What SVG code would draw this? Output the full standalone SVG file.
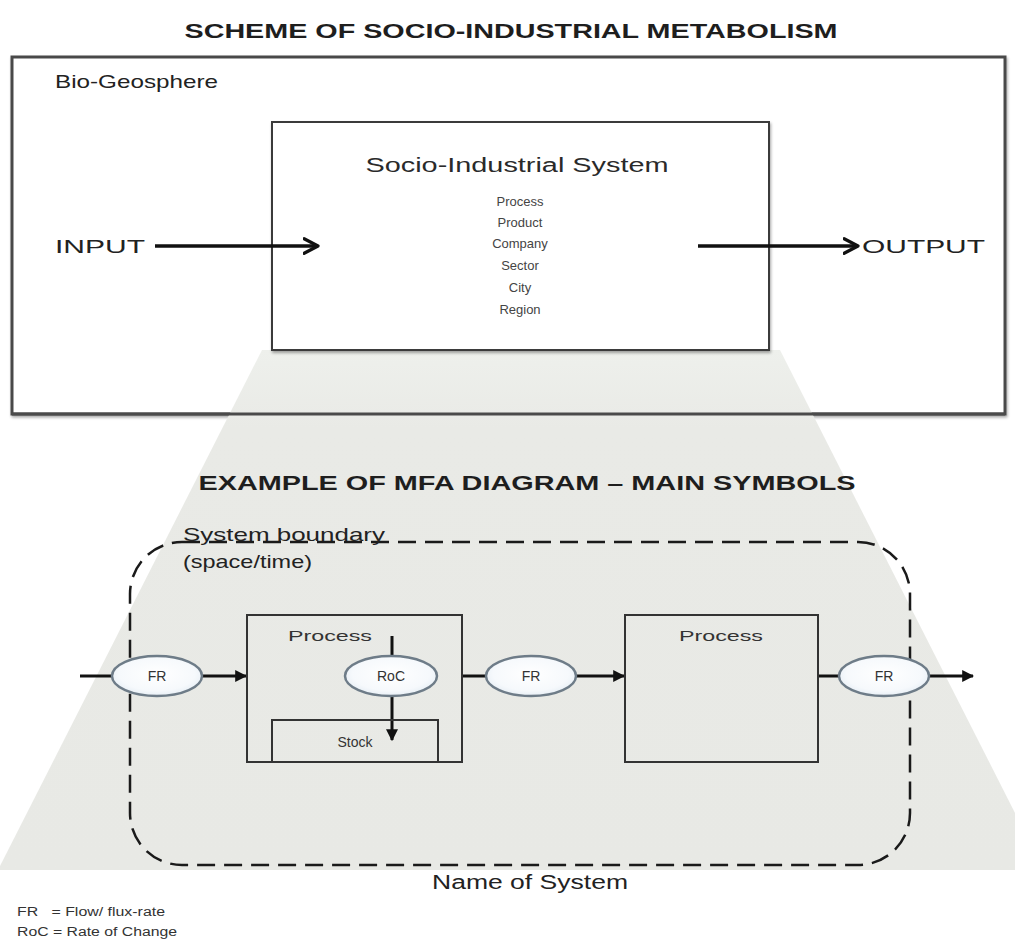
<svg xmlns="http://www.w3.org/2000/svg" width="1015" height="949" viewBox="0 0 1015 949">
  <style>
    .title { font-family: "Liberation Sans", Arial, sans-serif; font-weight: bold; font-size: 20px; fill: #1e1e1e; }
    .lbl { font-family: "Liberation Sans", Arial, sans-serif; font-size: 19px; fill: #222; }
    .small { font-family: "Liberation Sans", Arial, sans-serif; font-size: 13px; fill: #444; text-anchor: middle; }
    .node-text { font-family: "Liberation Sans", Arial, sans-serif; font-size: 14px; fill: #333; }
    .legend { font-family: "Liberation Sans", Arial, sans-serif; font-size: 12px; fill: #333; }
    .box { fill: #ffffff; stroke: #3a3a3a; stroke-width: 2; }
    .pbox { fill: none; stroke: #333; stroke-width: 2; }
    .fr { fill: url(#ellFill); stroke: #6e7c88; stroke-width: 2.5; }
    .flow { fill: none; stroke: #111; stroke-width: 3; }
    .big { fill: none; stroke: #111; stroke-width: 3.5; }
  </style>
  <defs>
    <radialGradient id="ellFill" cx="0.5" cy="0.45" r="0.6">
      <stop offset="0" stop-color="#ffffff"/>
      <stop offset="0.7" stop-color="#f6f9fc"/>
      <stop offset="1" stop-color="#e2ebf3"/>
    </radialGradient>
    <linearGradient id="beamFill" x1="0" y1="0" x2="0" y2="1">
      <stop offset="0" stop-color="#eef0ec"/>
      <stop offset="0.15" stop-color="#e9eae6"/>
      <stop offset="1" stop-color="#e8e9e5"/>
    </linearGradient>
    <filter id="shadow" x="-5%" y="-5%" width="110%" height="110%">
      <feGaussianBlur in="SourceAlpha" stdDeviation="1.5"/>
      <feOffset dx="1" dy="2"/>
      <feComponentTransfer><feFuncA type="linear" slope="0.35"/></feComponentTransfer>
      <feMerge><feMergeNode/><feMergeNode in="SourceGraphic"/></feMerge>
    </filter>
    <marker id="tri" viewBox="0 0 10 10" refX="9" refY="5" markerWidth="4" markerHeight="4" orient="auto" markerUnits="strokeWidth">
      <path d="M0,0 L10,5 L0,10 z" fill="#111"/>
    </marker>
    <marker id="chev" viewBox="0 0 12 12" refX="10.5" refY="6" markerWidth="5" markerHeight="5" orient="auto" markerUnits="strokeWidth">
      <path d="M1,1 L10.5,6 L1,11" fill="none" stroke="#111" stroke-width="2.2" stroke-linecap="round" stroke-linejoin="round"/>
    </marker>
  </defs>

  <rect width="1015" height="949" fill="#ffffff"/>

  <!-- upper scheme -->
  <text class="title" x="511" y="38" text-anchor="middle" textLength="653" lengthAdjust="spacingAndGlyphs">SCHEME OF SOCIO-INDUSTRIAL METABOLISM</text>

  <g id="bio-geosphere">
    <rect x="12" y="57" width="993" height="357" fill="#ffffff" stroke="#4a4a4a" stroke-width="3" filter="url(#shadow)"/>
    <text class="lbl" x="55" y="88" textLength="163" lengthAdjust="spacingAndGlyphs">Bio-Geosphere</text>
  </g>

  <!-- projection beam from the system box down to the MFA diagram -->
  <polygon id="beam" points="262,350 780,350 1044,870 -2,870" fill="url(#beamFill)"/>
  <!-- redraw the outer frame bottom so it sits over the beam -->
  <line x1="12" y1="414" x2="1005" y2="414" stroke="#4a4a4a" stroke-width="3"/>

  <g id="socio-industrial-system">
    <rect class="box" x="272" y="122" width="497" height="228" filter="url(#shadow)"/>
    <text x="517" y="172" text-anchor="middle" font-family="Liberation Sans, Arial, sans-serif" font-size="20" fill="#2a2a2a" textLength="303" lengthAdjust="spacingAndGlyphs">Socio-Industrial System</text>
    <text class="small" x="520" y="206">Process</text>
    <text class="small" x="520" y="227">Product</text>
    <text class="small" x="520" y="248">Company</text>
    <text class="small" x="520" y="270">Sector</text>
    <text class="small" x="520" y="292">City</text>
    <text class="small" x="520" y="314">Region</text>
  </g>

  <g id="input">
    <text class="lbl" x="55" y="253" textLength="90" lengthAdjust="spacingAndGlyphs">INPUT</text>
  </g>
  <g id="output">
    <text class="lbl" x="862" y="253" textLength="123" lengthAdjust="spacingAndGlyphs">OUTPUT</text>
  </g>

  <!-- lower MFA example -->
  <text class="title" x="527" y="490" text-anchor="middle" textLength="657" lengthAdjust="spacingAndGlyphs">EXAMPLE OF MFA DIAGRAM – MAIN SYMBOLS</text>

  <g id="system-boundary">
    <rect x="130" y="542" width="780" height="323" rx="52" ry="52" fill="none" stroke="#1a1a1a" stroke-width="2.5" stroke-dasharray="18 9"/>
    <text class="lbl" x="183" y="541" textLength="202" lengthAdjust="spacingAndGlyphs">System boundary</text>
    <text class="lbl" x="183" y="568" textLength="129" lengthAdjust="spacingAndGlyphs">(space/time)</text>
  </g>

  <g id="connectors">
    <line class="big" x1="155" y1="246" x2="318" y2="246" marker-end="url(#chev)"/>
    <line class="big" x1="698" y1="246" x2="858" y2="246" marker-end="url(#chev)"/>
    <line class="flow" x1="80" y1="676" x2="112" y2="676"/>
    <line class="flow" x1="202" y1="676" x2="246" y2="676" marker-end="url(#tri)"/>
    <line class="flow" x1="462" y1="676" x2="486" y2="676"/>
    <line class="flow" x1="576" y1="676" x2="624" y2="676" marker-end="url(#tri)"/>
    <line class="flow" x1="818" y1="676" x2="839" y2="676"/>
    <line class="flow" x1="929" y1="676" x2="973" y2="676" marker-end="url(#tri)"/>
    <line class="flow" x1="392" y1="636" x2="392" y2="656"/>
    <line class="flow" x1="392" y1="696" x2="392" y2="740" marker-end="url(#tri)"/>
  </g>

  <g id="process-1">
    <rect class="pbox" x="247" y="615" width="215" height="147"/>
    <text class="node-text" x="288" y="641" textLength="84" lengthAdjust="spacingAndGlyphs">Process</text>
  </g>
  <g id="stock">
    <path class="pbox" d="M272,762 V720 H438 V762"/>
    <text class="node-text" x="355" y="747" text-anchor="middle">Stock</text>
  </g>
  <g id="process-2">
    <rect class="pbox" x="625" y="615" width="193" height="147"/>
    <text class="node-text" x="721" y="641" text-anchor="middle" textLength="84" lengthAdjust="spacingAndGlyphs">Process</text>
  </g>

  <g id="fr-in">
    <ellipse class="fr" cx="157" cy="676" rx="45" ry="20"/>
    <text class="node-text" x="157" y="681" text-anchor="middle" font-size="13">FR</text>
  </g>
  <g id="roc">
    <ellipse class="fr" cx="391" cy="676" rx="46" ry="20"/>
    <text class="node-text" x="391" y="681" text-anchor="middle" font-size="13">RoC</text>
  </g>
  <g id="fr-mid">
    <ellipse class="fr" cx="531" cy="676" rx="45" ry="20"/>
    <text class="node-text" x="531" y="681" text-anchor="middle" font-size="13">FR</text>
  </g>
  <g id="fr-out">
    <ellipse class="fr" cx="884" cy="676" rx="45" ry="20"/>
    <text class="node-text" x="884" y="681" text-anchor="middle" font-size="13">FR</text>
  </g>

  <g id="system-name">
    <text x="530" y="889" text-anchor="middle" font-family="Liberation Sans, Arial, sans-serif" font-size="20" fill="#222" textLength="196" lengthAdjust="spacingAndGlyphs">Name of System</text>
  </g>

  <g id="legend">
    <text class="legend" x="17" y="916" xml:space="preserve" textLength="148" lengthAdjust="spacingAndGlyphs">FR   = Flow/ flux-rate</text>
    <text class="legend" x="17" y="936" textLength="160" lengthAdjust="spacingAndGlyphs">RoC = Rate of Change</text>
  </g>
</svg>
